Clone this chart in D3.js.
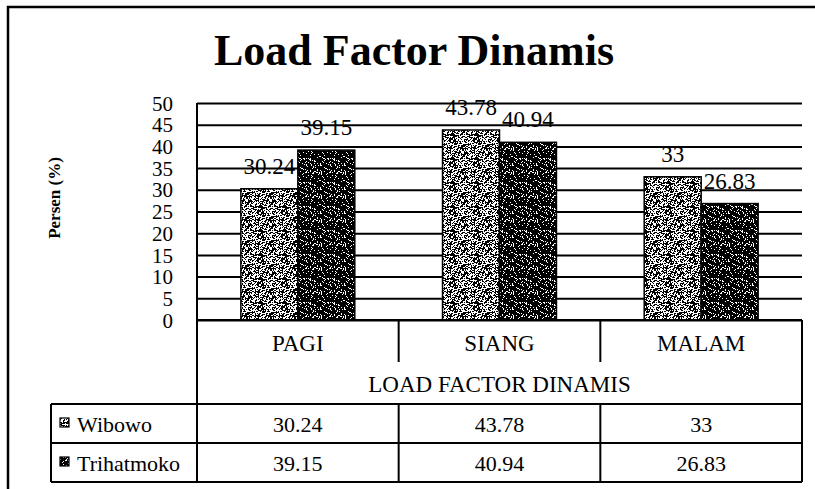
<!DOCTYPE html>
<html>
<head>
<meta charset="utf-8">
<script src="https://cdn.jsdelivr.net/npm/d3@7"></script>
</head>
<body style="margin:0">
<svg id="chart" width="815" height="489"></svg>
<script>
/* DATA */
const categories = ["PAGI", "SIANG", "MALAM"];
const seriesNames = ["Wibowo", "Trihatmoko"];
const wibowo = [30.24, 43.78, 33];
const trihatmoko = [39.15, 40.94, 26.83];
const yTicks = [0, 5, 10, 15, 20, 25, 30, 35, 40, 45, 50];
const groupLabel = "LOAD FACTOR DINAMIS";

/* CONSTANTS */
const width = 815, height = 489;
const plot = { left: 197, right: 802, top: 103, bottom: 320 };
const table = { left: 51, catBottom: 404, row1: 443, row2: 482 };
const FONT = '"Liberation Serif"';

const svg = d3.select("#chart");

/* small helper so every label gets the same serif face */
function label(sel, size, weight) {
  return sel.style("font-family", FONT)
    .style("font-size", size + "px")
    .style("font-weight", weight || "400")
    .attr("fill", "#000");
}

/* textures for the bars (scanned stipple look) */
const defs = svg.append("defs");
function stipple(id, base, dot, pct) {
  const tile = 24;
  const p = defs.append("pattern")
    .attr("id", id)
    .attr("patternUnits", "userSpaceOnUse")
    .attr("width", tile).attr("height", tile);
  p.append("rect").attr("width", tile).attr("height", tile).attr("fill", base);
  let d = "";
  for (let i = 0; i < tile; i++) {
    for (let j = 0; j < tile; j++) {
      const h = (((i * 73856093) ^ (j * 19349663) ^ (i * j * 83492791)) >>> 0) % 100;
      if (h < pct) d += `M${i},${j}h1v1h-1z`;
    }
  }
  p.append("path").attr("d", d).attr("fill", dot);
}
stipple("texWibowo", "#ffffff", "#000000", 52);
stipple("texTrihatmoko", "#000000", "#ffffff", 16);
const fills = ["url(#texWibowo)", "url(#texTrihatmoko)"];

/* SCALES */
const x0 = d3.scaleBand()
  .domain(categories)
  .range([plot.left, plot.right]);

const x1 = d3.scaleBand()
  .domain(seriesNames)
  .range([0, x0.bandwidth()])
  .paddingOuter(0.77);

const y = d3.scaleLinear()
  .domain([0, 50])
  .range([plot.bottom, plot.top]);

/* outer frame */
svg.append("path")
  .attr("d", `M8,${height} V7 H${width}`)
  .attr("fill", "none").attr("stroke", "#000").attr("stroke-width", 2.5);

/* title */
label(svg.append("text"), 44, "bold")
  .attr("x", 414).attr("y", 65)
  .attr("text-anchor", "middle")
  .text("Load Factor Dinamis");

/* y axis title */
label(svg.append("text"), 17, "bold")
  .attr("transform", `translate(60, 198) rotate(-90)`)
  .attr("text-anchor", "middle")
  .text("Persen (%)");

/* gridlines */
const grid = svg.append("g")
  .attr("transform", `translate(${plot.left},0)`)
  .call(d3.axisLeft(y).tickValues(yTicks).tickSize(-(plot.right - plot.left)).tickFormat(""));
grid.select(".domain").remove();
grid.selectAll("line").attr("stroke", "#000").attr("stroke-width", 2);

/* y tick labels */
const yAxis = svg.append("g")
  .attr("transform", `translate(${plot.left},0)`)
  .call(d3.axisLeft(y).tickValues(yTicks).tickSize(0).tickPadding(24));
yAxis.attr("font-family", null).attr("font-size", null);
yAxis.select(".domain").remove();
label(yAxis.selectAll("text"), 21).attr("dy", "0.34em");

/* BARS */
const seriesData = [wibowo, trihatmoko];
const barData = [];
categories.forEach((c, i) => {
  seriesNames.forEach((s, k) => {
    barData.push({ cat: c, series: s, k: k, value: seriesData[k][i] });
  });
});

svg.selectAll(".bar")
  .data(barData)
  .join("rect")
  .attr("class", "bar")
  .attr("x", d => x0(d.cat) + x1(d.series))
  .attr("y", d => y(d.value))
  .attr("width", x1.bandwidth())
  .attr("height", d => y(0) - y(d.value))
  .attr("fill", d => fills[d.k])
  .attr("stroke", "#000")
  .attr("stroke-width", 1.5);

label(svg.selectAll(".bar-label")
  .data(barData)
  .join("text"), 23)
  .attr("class", "bar-label")
  .attr("x", d => x0(d.cat) + x1(d.series) + x1.bandwidth() / 2)
  .attr("y", d => y(d.value) - 15)
  .attr("text-anchor", "middle")
  .text(d => String(d.value));

/* DATA TABLE */
const lines = svg.append("g")
  .attr("stroke", "#000").attr("stroke-width", 2).attr("fill", "none");
// axis / left edge of category box
lines.append("line").attr("x1", plot.left).attr("x2", plot.left)
  .attr("y1", plot.top).attr("y2", table.row2);
lines.append("line").attr("x1", plot.right).attr("x2", plot.right)
  .attr("y1", plot.bottom).attr("y2", table.row2);
lines.append("line").attr("x1", plot.left).attr("x2", plot.right)
  .attr("y1", plot.bottom).attr("y2", plot.bottom);
// category separators (short ticks)
categories.slice(1).forEach(c => {
  lines.append("line").attr("x1", x0(c)).attr("x2", x0(c))
    .attr("y1", plot.bottom).attr("y2", 362);
});
[table.catBottom, table.row1, table.row2].forEach(yy => {
  lines.append("line").attr("x1", table.left).attr("x2", plot.right)
    .attr("y1", yy).attr("y2", yy);
});
lines.append("line").attr("x1", table.left).attr("x2", table.left)
  .attr("y1", table.catBottom).attr("y2", table.row2);
categories.slice(1).forEach(c => {
  lines.append("line").attr("x1", x0(c)).attr("x2", x0(c))
    .attr("y1", table.catBottom).attr("y2", table.row2);
});

label(svg.selectAll(".cat-label")
  .data(categories)
  .join("text"), 23)
  .attr("class", "cat-label")
  .attr("x", d => x0(d) + x0.bandwidth() / 2)
  .attr("y", 351)
  .attr("text-anchor", "middle")
  .text(d => d);

label(svg.append("text"), 23)
  .attr("x", (plot.left + plot.right) / 2)
  .attr("y", 392)
  .attr("text-anchor", "middle")
  .text(groupLabel);

const rowBase = [432, 471];
seriesNames.forEach((s, k) => {
  svg.append("rect")
    .attr("x", 60).attr("y", rowBase[k] - 14)
    .attr("width", 9).attr("height", 9)
    .attr("fill", fills[k]).attr("stroke", "#000").attr("stroke-width", 1.2);
  label(svg.append("text"), 22)
    .attr("x", 77).attr("y", rowBase[k])
    .text(s);
  label(svg.selectAll(".cell-" + k)
    .data(seriesData[k])
    .join("text"), 22)
    .attr("class", "cell-" + k)
    .attr("x", (d, i) => x0(categories[i]) + x0.bandwidth() / 2)
    .attr("y", rowBase[k])
    .attr("text-anchor", "middle")
    .text(d => String(d));
});
</script>
</body>
</html>
